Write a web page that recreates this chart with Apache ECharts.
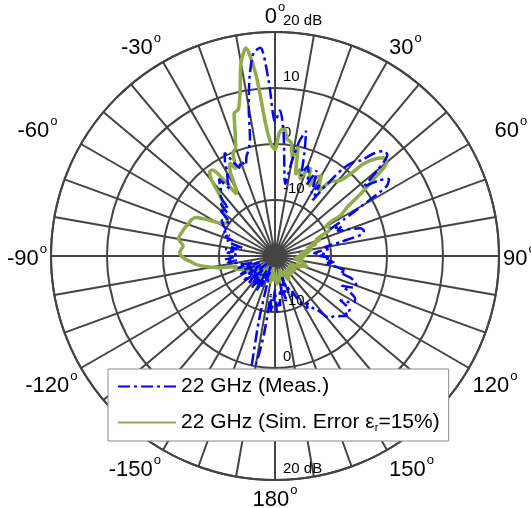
<!DOCTYPE html>
<html>
<head>
<meta charset="utf-8">
<script src="https://cdn.jsdelivr.net/npm/echarts@6/dist/echarts.min.js"></script>
<style>
  html, body { margin: 0; padding: 0; background: #ffffff; }
  #chart { width: 531px; height: 508px; }
</style>
</head>
<body>
<div id="chart"></div>
<script>
// Azimuth samples in degrees (0 = broadside, clockwise positive)
const anglesDeg = [
  -180,-178,-176,-174,-172,-170,-168,-166,-164,-162,
  -160,-158,-156,-154,-152,-150,-148,-146,-144,-142,
  -140,-138,-136,-134,-132,-130,-128,-126,-124,-122,
  -120,-118,-116,-114,-112,-110,-108,-106,-104,-102,
  -100,-98,-96,-94,-92,-90,-88,-86,-84,-82,
  -80,-78,-76,-74,-72,-70,-68,-66,-64,-62,
  -60,-58,-56,-54,-52,-50,-48,-46,-44,-42,
  -40,-38,-36,-34,-32,-30,-28,-26,-24,-22,
  -20,-18,-16,-14,-12,-10,-8,-6,-4,-2,
  0,2,4,6,8,10,12,14,16,18,
  20,22,24,26,28,30,32,34,36,38,
  40,42,44,46,48,50,52,54,56,58,
  60,62,64,66,68,70,72,74,76,78,
  80,82,84,86,88,90,92,94,96,98,
  100,102,104,106,108,110,112,114,116,118,
  120,122,124,126,128,130,132,134,136,138,
  140,142,144,146,148,150,152,154,156,158,
  160,162,164,166,168,170,172,174,176,178,
  180
];

// Measured gain at 22 GHz (dB)
const measDb = [
  -14,-12,-10,-13,-6,-0.5,0,-8,-15,-17,
  -15,-18,-14,-16,-13,-17,-14,-15,-13,-16,
  -14,-17,-13,-15,-18,-14,-13,-16,-14,-17,
  -15,-13,-16,-14,-17,-15,-13,-16,-14,-13,
  -13,-11.5,-13,-11,-12.5,-12,-13,-11.5,-12.5,-11,
  -13,-12,-14,-12,-11,-12,-10.5,-11,-10,-10.5,
  -9.5,-9,-8.5,-10,-9,-7,-8.5,-6.5,-8,-5.5,
  -5,-4,-3,-5.5,-4,-3,-1,0.5,-1.5,-3,
  -2,-3,-1.5,-0.5,1.5,7,12.5,16.5,17.3,11,
  4,6,2,-4,-7,-3,1,3,-1,-5,
  -3,-4,-6,-3,-5,-7,-5,-8,-4,0,
  2,3,5.5,7,7,4,0,3,4.6,3.5,
  -2,-6,-9,-7,-8,-6,-4,-3.5,-4,-8,
  -11,-10,-12,-13,-11,-12,-10,-11,-9.5,-11,
  -9,-7,-8,-6,-5,-4.5,-5,-7,-5,-3.8,
  -3.6,-4.5,-6,-3.5,-4,-3.3,-4,-4.5,-5,-5.2,
  -6,-8,-8.5,-10,-9,-10,-11,-13,-12,-14,
  -13,-16,-14,-12,-15,-13,-14,-11,-12,-10,
  -14
];

// Simulated gain at 22 GHz with 15 % permittivity error (dB)
const simDb = [
  -17,-16,-15.5,-17,-18,-16,-15,-16.5,-15,-16,
  -17,-16,-18,-17,-16,-17.5,-16,-15.5,-15,-16.5,
  -17,-16,-15,-16.5,-18,-17,-16,-15,-14.5,-16,
  -15,-14,-13.5,-15,-14,-13,-12.5,-13,-12,-10,
  -8.5,-7,-5.8,-5,-4,-3.3,-3,-3.2,-3.5,-3.1,
  -2.5,-2.6,-2.8,-3,-3.2,-3.5,-3.6,-3.8,-4.3,-6,
  -8,-9,-9.5,-9.5,-9,-8,-7.5,-7,-6.5,-5,
  -2.5,-1,-1,-3.5,-7,-6,-3,-1.5,-3,0,
  0.5,3,6.5,7,10,15,17.5,12.5,3.5,0,
  -1,2,3,1,0.5,-2,0,-5,-4,-5.5,
  -4,-3,-5,-6,-4,-3.5,-5,-6,-4,-3,
  -2.5,-1,3,5,6.2,6,2.5,-1,-4.5,-6,
  -9.5,-9,-9,-10.5,-12,-11.5,-13,-12.5,-14,-13.5,
  -13.5,-15,-14,-15.5,-14.5,-15,-16,-15,-16.5,-15.5,
  -15,-16,-14.5,-15,-14,-14.5,-16,-15,-16.5,-17,
  -16,-17,-15.5,-16,-17,-16.5,-15.5,-16,-17,-16.5,
  -15.5,-16,-17,-16,-15.5,-15,-15.5,-16.5,-17,-16,
  -16.5,-17.5,-16,-17,-16,-15.5,-16,-15.5,-15,-16,
  -17
];

const seriesNames = ['22 GHz (Meas.)', '22 GHz (Sim. Error \u03b5r=15%)'];
const radiusRange = [-20, 20];
const radiusStep = 10;
const angleGridStep = 10;
const angleLabelStep = 30;

const FONT = '"Liberation Sans", Arial, Helvetica, sans-serif';
const GRID = '#444444';
const CENTER = [275, 256];
const RADIUS = 224;

function toAxisAngle(a) { return a < 0 ? a + 360 : a; }
function toPolarData(values) {
  return values.map((v, i) => [v, toAxisAngle(anglesDeg[i])]);
}
function radiusLabel(v) {
  if (v === radiusRange[0]) return '';
  if (v === radiusRange[1]) return v + ' dB';
  return String(v);
}
// Degree labels with a raised "o"; the ±60° labels sit a bit further out
function angleLabel(v) {
  if (v % angleLabelStep !== 0 || v === 360) return '';
  const d = v > 180 ? v - 360 : v;
  if (d === 60) return '{farR|60}{s|o}';
  if (d === -60) return '{n|-60}{sFarL|o}';
  return '{n|' + d + '}{s|o}';
}

const chart = echarts.init(document.getElementById('chart'), null, { renderer: 'canvas' });

const degFont = { fontSize: 22, fontFamily: FONT, color: '#000' };
const supFont = { fontSize: 13, fontFamily: FONT, color: '#000', verticalAlign: 'top' };

chart.setOption({
  animation: false,
  backgroundColor: '#ffffff',
  textStyle: { fontFamily: FONT },
  polar: [
    { center: CENTER, radius: RADIUS },
    { center: CENTER, radius: RADIUS }
  ],
  angleAxis: [
    {
      polarIndex: 0,
      type: 'value',
      min: 0,
      max: 360,
      interval: angleGridStep,
      startAngle: 90,
      clockwise: true,
      axisLine: { show: true, lineStyle: { color: GRID, width: 2 } },
      axisTick: { show: false },
      splitLine: { show: true, lineStyle: { color: GRID, width: 2 } },
      axisLabel: {
        show: true,
        margin: 4,
        color: '#000',
        formatter: angleLabel,
        rich: {
          n: Object.assign({ padding: [5, 0, 0, 0] }, degFont),
          farR: Object.assign({ padding: [5, 0, 0, 22] }, degFont),
          s: Object.assign({ padding: [0, 0, 0, 1] }, supFont),
          sFarL: Object.assign({ padding: [0, 20, 0, 1] }, supFont)
        }
      }
    },
    {
      polarIndex: 1,
      type: 'value',
      min: 0,
      max: 360,
      startAngle: 270,
      clockwise: true,
      axisLine: { show: false },
      axisTick: { show: false },
      splitLine: { show: false },
      axisLabel: { show: false }
    }
  ],
  radiusAxis: [
    {
      polarIndex: 0,
      type: 'value',
      min: radiusRange[0],
      max: radiusRange[1],
      interval: radiusStep,
      axisLine: { show: false },
      axisTick: { show: false },
      splitLine: { show: true, lineStyle: { color: GRID, width: 2 } },
      axisLabel: {
        margin: -8,
        align: 'left',
        verticalAlign: 'bottom',
        padding: [0, 0, 4, 0],
        fontSize: 15,
        fontFamily: FONT,
        color: '#000',
        formatter: radiusLabel
      }
    },
    {
      polarIndex: 1,
      type: 'value',
      min: radiusRange[0],
      max: radiusRange[1],
      interval: radiusStep,
      axisLine: { show: false },
      axisTick: { show: false },
      splitLine: { show: false },
      axisLabel: {
        margin: 8,
        align: 'left',
        verticalAlign: 'bottom',
        padding: [0, 0, 4, 0],
        fontSize: 15,
        fontFamily: FONT,
        color: '#000',
        formatter: radiusLabel
      }
    }
  ],
  legend: {
    data: [seriesNames[0], seriesNames[1]],
    orient: 'vertical',
    left: 108,
    top: 369,
    backgroundColor: '#ffffff',
    borderColor: '#8a8a8a',
    borderWidth: 1,
    borderRadius: 0,
    padding: [7, 9, 8, 9],
    itemGap: 15,
    itemWidth: 58,
    itemHeight: 24,
    itemStyle: { opacity: 0 },
    textStyle: {
      fontFamily: FONT,
      fontSize: 21,
      color: '#000',
      rich: {
        sub: { fontSize: 11, fontFamily: FONT, color: '#000', verticalAlign: 'bottom', padding: [10, 0, 0, 0] }
      }
    },
    formatter: function (name) {
      if (name === seriesNames[1]) return '22 GHz (Sim. Error \u03b5{sub|r}=15%)';
      return name;
    }
  },
  series: [
    {
      name: seriesNames[1],
      type: 'line',
      coordinateSystem: 'polar',
      polarIndex: 0,
      data: toPolarData(simDb),
      symbol: 'none',
      smooth: 0.25,
      lineStyle: { color: '#8fab4b', width: 3.5 },
      itemStyle: { color: '#8fab4b' }
    },
    {
      name: seriesNames[0],
      type: 'line',
      coordinateSystem: 'polar',
      polarIndex: 0,
      data: toPolarData(measDb),
      symbol: 'none',
      smooth: 0.25,
      lineStyle: { color: '#0000ff', width: 2.5, type: [12, 4, 3, 4] },
      itemStyle: { color: '#0000ff' }
    }
  ]
});
</script>
</body>
</html>
